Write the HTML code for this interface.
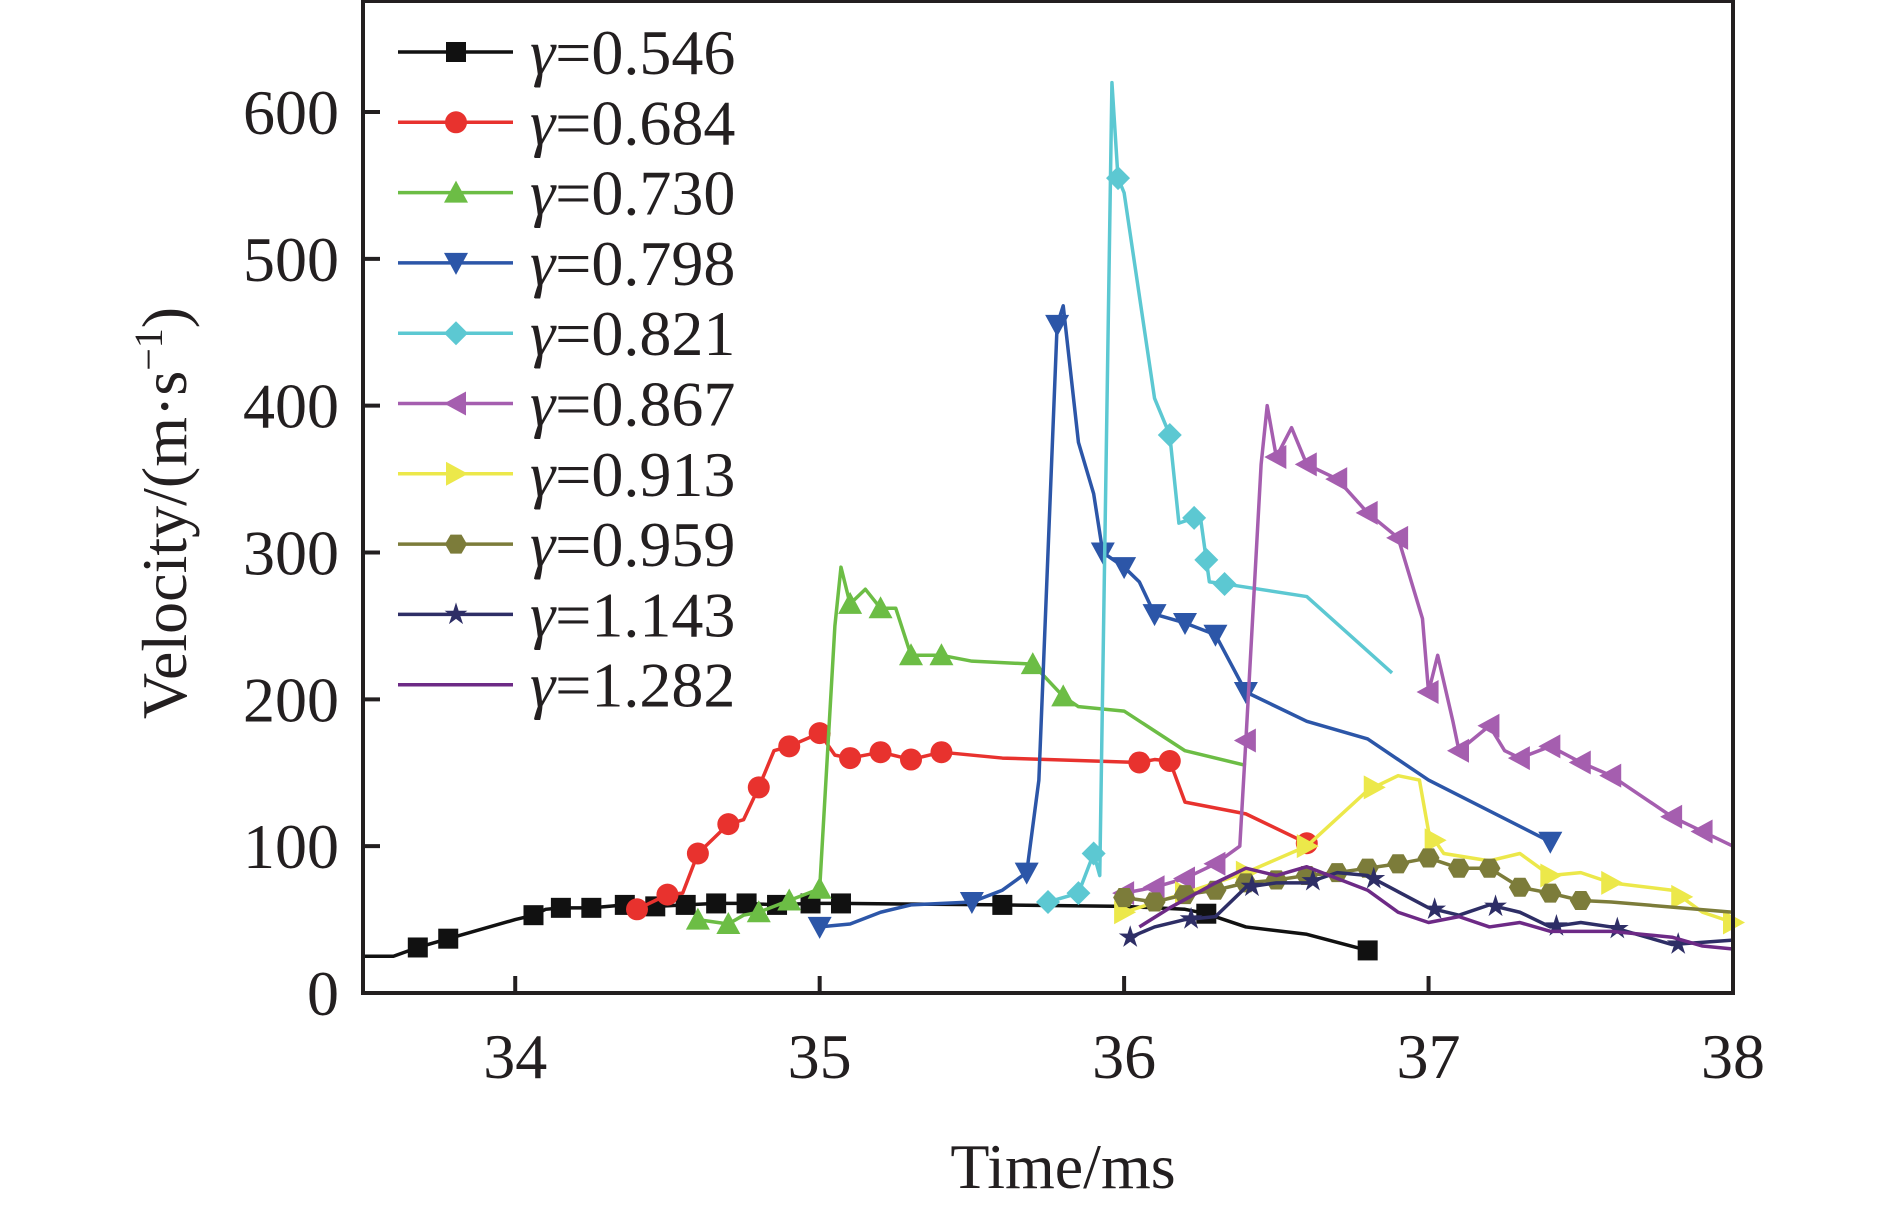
<!DOCTYPE html>
<html><head><meta charset="utf-8"><style>
html,body{margin:0;padding:0;background:#fff;}
svg{display:block;}
text{font-family:"Liberation Serif","DejaVu Serif","Times New Roman",serif;fill:#231f20;}
</style></head><body>
<svg id="chart" width="1890" height="1210" viewBox="0 0 1890 1210" xmlns="http://www.w3.org/2000/svg">
<g id="series"></g>
<g id="axes"></g>
<g id="legend"></g>
</svg>
<script>
const xTicks = [34, 35, 36, 37, 38];
const yTicks = [0, 100, 200, 300, 400, 500, 600];
const labels = ["γ=0.546","γ=0.684","γ=0.730","γ=0.798","γ=0.821","γ=0.867","γ=0.913","γ=0.959","γ=1.143","γ=1.282"];
const colors = ["#111111","#e8322e","#6cbd45","#2c56a8","#5cc8d2","#a55eaf","#ece84a","#7c7c3a","#2e2e66","#6d2a86"];
const markers = ["square","circle","up","down","diamond","left","right","hex","star","none"];
const t546 = [33.5,33.6,33.68,33.78,34.0,34.06,34.1,34.15,34.25,34.36,34.46,34.56,34.66,34.76,34.86,34.97,35.07,35.6,36.0,36.2,36.27,36.4,36.6,36.8];
const v546 = [25,25,31,37,50,53,57,58,58,60,59,60,61,61,60,61,61,60,59,57,54,45,40,29];
const m546 = [33.68,33.78,34.06,34.15,34.25,34.36,34.46,34.56,34.66,34.76,34.86,34.97,35.07,35.6,36.27,36.8];
const t684 = [34.4,34.5,34.55,34.6,34.65,34.7,34.75,34.8,34.85,34.9,35.0,35.05,35.1,35.2,35.3,35.4,35.6,36.05,36.1,36.15,36.2,36.4,36.6];
const v684 = [57,67,68,95,105,115,118,140,165,168,177,162,160,164,159,164,160,157,159,158,130,122,102];
const m684 = [34.4,34.5,34.6,34.7,34.8,34.9,35.0,35.1,35.2,35.3,35.4,36.05,36.15,36.6];
const t730 = [34.6,34.7,34.75,34.8,34.9,35.0,35.05,35.07,35.1,35.15,35.2,35.25,35.3,35.4,35.5,35.7,35.8,35.85,36.0,36.2,36.4];
const v730 = [50,47,53,55,63,71,250,290,265,275,262,262,230,230,226,224,202,195,192,165,155];
const m730 = [34.6,34.7,34.8,34.9,35.0,35.1,35.2,35.3,35.4,35.7,35.8];
const t798 = [35.0,35.1,35.2,35.3,35.5,35.6,35.68,35.72,35.78,35.8,35.85,35.9,35.93,36.0,36.05,36.1,36.2,36.3,36.4,36.6,36.8,37.0,37.4];
const v798 = [45,47,55,60,62,70,82,145,455,468,375,340,300,290,280,258,252,244,205,185,173,145,103];
const m798 = [35.0,35.5,35.68,35.78,35.93,36.0,36.1,36.2,36.3,36.4,37.4];
const t821 = [35.75,35.85,35.9,35.92,35.96,35.98,36.0,36.1,36.15,36.18,36.25,36.28,36.35,36.6,36.88];
const v821 = [62,68,95,80,620,555,545,405,380,320,325,280,278,270,218];
const m821 = [35.75,35.85,35.9,35.98,36.15,36.23,36.27,36.33];
const t867 = [36.0,36.1,36.2,36.3,36.38,36.4,36.45,36.47,36.5,36.55,36.6,36.7,36.8,36.9,36.98,37.0,37.03,37.08,37.1,37.2,37.25,37.3,37.4,37.5,37.6,37.8,38.0];
const v867 = [68,72,78,88,100,172,360,400,365,385,360,350,327,310,255,205,230,185,165,182,165,160,168,157,148,120,100];
const m867 = [36.0,36.1,36.2,36.3,36.4,36.5,36.6,36.7,36.8,36.9,37.0,37.1,37.2,37.3,37.4,37.5,37.6,37.8,37.9];
const t913 = [36.0,36.2,36.4,36.6,36.8,36.9,36.97,37.0,37.05,37.2,37.3,37.4,37.5,37.6,37.8,37.9,38.0];
const v913 = [55,68,82,100,138,148,145,110,95,90,95,80,82,75,70,55,48];
const m913 = [36.0,36.2,36.4,36.6,36.82,37.02,37.4,37.6,37.83,38.0];
const t959 = [36.0,36.1,36.2,36.3,36.4,36.5,36.6,36.7,36.8,36.9,37.0,37.1,37.2,37.3,37.4,37.5,37.6,38.0];
const v959 = [65,62,67,70,75,77,80,82,85,88,92,85,85,72,68,63,62,55];
const m959 = [36.0,36.1,36.2,36.3,36.4,36.5,36.6,36.7,36.8,36.9,37.0,37.1,37.2,37.3,37.4,37.5];
const t1143 = [36.02,36.1,36.2,36.3,36.4,36.5,36.6,36.7,36.8,37.0,37.1,37.2,37.3,37.4,37.5,37.6,37.8,38.0];
const v1143 = [38,45,50,52,72,75,75,82,80,58,53,60,55,45,48,45,33,36];
const m1143 = [36.02,36.22,36.42,36.62,36.82,37.02,37.22,37.42,37.62,37.82];
const t1282 = [36.05,36.15,36.3,36.4,36.5,36.6,36.7,36.8,36.9,37.0,37.1,37.2,37.3,37.4,37.6,37.8,37.9,38.0];
const v1282 = [45,58,75,85,80,86,78,70,55,48,52,45,48,42,42,38,32,30];
const m1282 = [];

const allT=[t546,t684,t730,t798,t821,t867,t913,t959,t1143,t1282];
const allV=[v546,v684,v730,v798,v821,v867,v913,v959,v1143,v1282];
const allM=[m546,m684,m730,m798,m821,m867,m913,m959,m1143,m1282];

const X0=363,X1=1733,Y0=993,Y600=112;
function xs(t){return X0+(t-33.5)*(X1-X0)/4.5;}
function ys(v){return Y0-v*(Y0-Y600)/600;}
const NS="http://www.w3.org/2000/svg";
function mk(tag,attrs,parent){const e=document.createElementNS(NS,tag);for(const k in attrs)e.setAttribute(k,attrs[k]);parent.appendChild(e);return e;}
function interp(T,V,t){for(let i=0;i<T.length-1;i++){if(t>=T[i]&&t<=T[i+1]){const f=(t-T[i])/(T[i+1]-T[i]||1);return V[i]+f*(V[i+1]-V[i]);}}return V[V.length-1];}
function marker(type,cx,cy,color,parent){
  const s=10;let e;
  if(type==="square"){e=mk("rect",{x:cx-s,y:cy-s,width:2*s,height:2*s,fill:color},parent);}
  else if(type==="circle"){e=mk("circle",{cx:cx,cy:cy,r:s+1,fill:color},parent);}
  else if(type==="up"){e=mk("polygon",{points:`${cx},${cy-s-2} ${cx-s-2},${cy+s} ${cx+s+2},${cy+s}`,fill:color},parent);}
  else if(type==="down"){e=mk("polygon",{points:`${cx},${cy+s+2} ${cx-s-2},${cy-s} ${cx+s+2},${cy-s}`,fill:color},parent);}
  else if(type==="left"){e=mk("polygon",{points:`${cx-s-2},${cy} ${cx+s},${cy-s-2} ${cx+s},${cy+s+2}`,fill:color},parent);}
  else if(type==="right"){e=mk("polygon",{points:`${cx+s+2},${cy} ${cx-s},${cy-s-2} ${cx-s},${cy+s+2}`,fill:color},parent);}
  else if(type==="diamond"){e=mk("polygon",{points:`${cx},${cy-s-2} ${cx+s+2},${cy} ${cx},${cy+s+2} ${cx-s-2},${cy}`,fill:color},parent);}
  else if(type==="hex"){let p=[];for(let i=0;i<6;i++){const a=Math.PI/3*i;p.push((cx+(s+1)*Math.cos(a))+","+(cy+(s+1)*Math.sin(a)));}e=mk("polygon",{points:p.join(" "),fill:color},parent);}
  else if(type==="star"){let p=[];for(let i=0;i<10;i++){const a=-Math.PI/2+Math.PI/5*i;const r=i%2?s*0.45:s+2;p.push((cx+r*Math.cos(a))+","+(cy+r*Math.sin(a)));}e=mk("polygon",{points:p.join(" "),fill:color},parent);}
  return e;
}
const sg=document.getElementById("series");
for(let k=0;k<10;k++){
  const g=mk("g",{},sg);
  
  
  const pts=allT[k].map((t,i)=>xs(t)+","+ys(allV[k][i])).join(" ");
  const pl=mk("polyline",{points:pts,fill:"none",stroke:colors[k],"stroke-width":3.5,"stroke-linejoin":"round"},g);
  
  
  allM[k].forEach(t=>{
    const m=marker(markers[k],xs(t),ys(interp(allT[k],allV[k],t)),colors[k],g);
    
    
  });
}
const ax=document.getElementById("axes");
const fr=mk("rect",{x:X0,y:1,width:X1-X0,height:Y0-1,fill:"none",stroke:"#231f20","stroke-width":4},ax);


xTicks.forEach(t=>{
  const l=mk("line",{x1:xs(t),x2:xs(t),y1:Y0,y2:Y0-17,stroke:"#231f20","stroke-width":4},ax);
  
  
  const tx=mk("text",{x:xs(t),y:1078,"font-size":64,"text-anchor":"middle"},ax);
  tx.textContent=t;
  
  
});
yTicks.forEach(v=>{
  const l=mk("line",{x1:X0,x2:X0+17,y1:ys(v),y2:ys(v),stroke:"#231f20","stroke-width":4},ax);
  
  
  const tx=mk("text",{x:339,y:ys(v)+22,"font-size":64,"text-anchor":"end"},ax);
  tx.textContent=v;
  
  
});
const xt=mk("text",{x:1063,y:1188,"font-size":64,"text-anchor":"middle"},ax);
xt.textContent="Time/ms";


const yt=mk("text",{x:0,y:0,"font-size":64,"text-anchor":"middle",transform:"translate(186,513) rotate(-90)"},ax);
yt.innerHTML='Velocity/(m·s<tspan dy="-24" font-size="40">−1</tspan><tspan dy="24">)</tspan>';


const lg=document.getElementById("legend");
for(let k=0;k<10;k++){
  const y=52+70.3*k;
  const g=mk("g",{},lg);
  
  
  mk("line",{x1:398,x2:513,y1:y,y2:y,stroke:colors[k],"stroke-width":3.5},g);
  marker(markers[k],456,y,colors[k],g);
  const tx=mk("text",{x:530,y:y+22,"font-size":64},g);
  tx.innerHTML='<tspan font-style="italic">γ</tspan>'+labels[k].slice(1);
}
</script>
</body></html>
